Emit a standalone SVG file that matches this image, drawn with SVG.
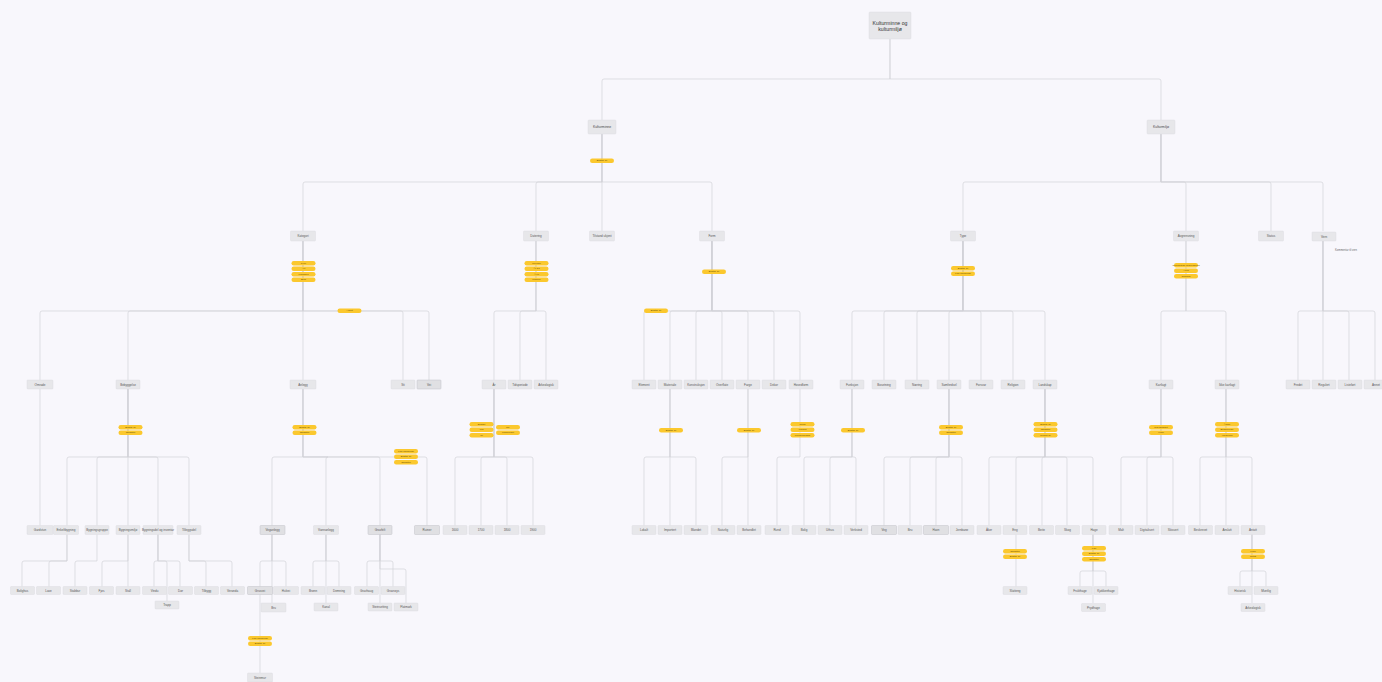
<svg xmlns="http://www.w3.org/2000/svg" width="1382" height="682" viewBox="0 0 1382 682">
<style>
.c path{fill:none;stroke:#d3d3d9;stroke-width:0.7}
.b rect{fill:#e7e7ea;stroke:#dadade;stroke-width:0.4}
.dk rect{fill:#e0e0e3;stroke:#c2c2c8;stroke-width:0.5}
.p rect{fill:#fbc82e}
text{font-family:"Liberation Sans",Arial,sans-serif;font-size:3px;fill:#555;text-anchor:middle;dominant-baseline:central}
.p text{font-size:2.5px;fill:#6a5000}
.r text{font-size:5.2px;fill:#333}
.l1 text{font-size:3.4px;fill:#444}
.cm{font-size:2.6px;fill:#666}
</style>
<rect width="1382" height="682" fill="#f8f7fc"/>
<g class="c" id="connectors">
<path d="M890 39V79H604Q602 79 602 81V120"/>
<path d="M890 39V79H1159Q1161 79 1161 81V120"/>
<path d="M602 134V182H305Q303 182 303 184V231"/>
<path d="M602 134V182H538Q536 182 536 184V231"/>
<path d="M602 134V231"/>
<path d="M602 134V182H710Q712 182 712 184V231"/>
<path d="M1161 134V182H965Q963 182 963 184V231"/>
<path d="M1161 134V182H1184Q1186 182 1186 184V231"/>
<path d="M1161 134V182H1269Q1271 182 1271 184V231"/>
<path d="M1161 134V182H1321Q1323 182 1323 184V231"/>
<path d="M303 241V311H42Q40 311 40 313V380"/>
<path d="M303 241V311H130Q128 311 128 313V380"/>
<path d="M303 241V380"/>
<path d="M303 241V311H401Q403 311 403 313V380"/>
<path d="M303 241V311H427Q429 311 429 313V380"/>
<path d="M536 241V311H496Q494 311 494 313V380"/>
<path d="M536 241V311H522Q520 311 520 313V380"/>
<path d="M536 241V311H544Q546 311 546 313V380"/>
<path d="M712 241V311H646Q644 311 644 313V380"/>
<path d="M712 241V311H672Q670 311 670 313V380"/>
<path d="M712 241V311H698Q696 311 696 313V380"/>
<path d="M712 241V311H720Q722 311 722 313V380"/>
<path d="M712 241V311H746Q748 311 748 313V380"/>
<path d="M712 241V311H772Q774 311 774 313V380"/>
<path d="M712 241V311H798Q800 311 800 313V380"/>
<path d="M963 241V311H854Q852 311 852 313V380"/>
<path d="M963 241V311H886Q884 311 884 313V380"/>
<path d="M963 241V311H919Q917 311 917 313V380"/>
<path d="M963 241V311H951Q949 311 949 313V380"/>
<path d="M963 241V311H979Q981 311 981 313V380"/>
<path d="M963 241V311H1011Q1013 311 1013 313V380"/>
<path d="M963 241V311H1043Q1045 311 1045 313V380"/>
<path d="M1186 241V311H1163Q1161 311 1161 313V380"/>
<path d="M1186 241V311H1224Q1226 311 1226 313V380"/>
<path d="M1323 241V311H1300Q1298 311 1298 313V380"/>
<path d="M1323 241V380"/>
<path d="M1323 241V311H1347Q1349 311 1349 313V380"/>
<path d="M1323 241V311H1373Q1375 311 1375 313V380"/>
<path d="M40 389V525.5"/>
<path d="M128 389V457H69Q67 457 67 459V525.5"/>
<path d="M128 389V457H99Q97 457 97 459V525.5"/>
<path d="M128 389V525.5"/>
<path d="M128 389V457H156Q158 457 158 459V525.5"/>
<path d="M128 389V457H187Q189 457 189 459V525.5"/>
<path d="M303 389V457H274Q272 457 272 459V525.5"/>
<path d="M303 389V457H328Q326 457 326 459V525.5"/>
<path d="M303 389V457H378Q380 457 380 459V525.5"/>
<path d="M303 389V457H425Q427 457 427 459V525.5"/>
<path d="M494 389V457H457Q455 457 455 459V525.5"/>
<path d="M494 389V457H483Q481 457 481 459V525.5"/>
<path d="M494 389V457H505Q507 457 507 459V525.5"/>
<path d="M494 389V457H531Q533 457 533 459V525.5"/>
<path d="M670 389V457H646Q644 457 644 459V525.5"/>
<path d="M670 389V525.5"/>
<path d="M670 389V457H694Q696 457 696 459V525.5"/>
<path d="M748 389V457H724Q722 457 722 459V525.5"/>
<path d="M748 389V525.5"/>
<path d="M800 389V457H779Q777 457 777 459V525.5"/>
<path d="M852 389V457H806Q804 457 804 459V525.5"/>
<path d="M852 389V457H832Q830 457 830 459V525.5"/>
<path d="M852 389V457H854Q856 457 856 459V525.5"/>
<path d="M949 389V457H886Q884 457 884 459V525.5"/>
<path d="M949 389V457H912Q910 457 910 459V525.5"/>
<path d="M949 389V457H938Q936 457 936 459V525.5"/>
<path d="M949 389V457H960Q962 457 962 459V525.5"/>
<path d="M1045 389V457H991Q989 457 989 459V525.5"/>
<path d="M1045 389V457H1018Q1016 457 1016 459V525.5"/>
<path d="M1045 389V457H1044Q1042 457 1042 459V525.5"/>
<path d="M1045 389V457H1065Q1067 457 1067 459V525.5"/>
<path d="M1045 389V457H1091Q1093 457 1093 459V525.5"/>
<path d="M1161 389V457H1123Q1121 457 1121 459V525.5"/>
<path d="M1161 389V457H1149Q1147 457 1147 459V525.5"/>
<path d="M1161 389V457H1171Q1173 457 1173 459V525.5"/>
<path d="M1226 389V457H1202Q1200 457 1200 459V525.5"/>
<path d="M1226 389V525.5"/>
<path d="M1226 389V457H1250Q1252 457 1252 459V525.5"/>
<path d="M67 534.5V561H24Q22 561 22 563V586.5"/>
<path d="M67 534.5V561H51Q49 561 49 563V586.5"/>
<path d="M97 534.5V561H77Q75 561 75 563V586.5"/>
<path d="M128 534.5V561H104Q102 561 102 563V586.5"/>
<path d="M128 534.5V586.5"/>
<path d="M158 534.5V561H156Q154 561 154 563V586.5"/>
<path d="M158 534.5V561H178Q180 561 180 563V586.5"/>
<path d="M158 534.5V561H165Q167 561 167 563V603"/>
<path d="M189 534.5V561H204Q206 561 206 563V586.5"/>
<path d="M189 534.5V561H230Q232 561 232 563V586.5"/>
<path d="M272 534.5V561H262Q260 561 260 563V586.5"/>
<path d="M272 534.5V561H284Q286 561 286 563V586.5"/>
<path d="M272 534.5V603"/>
<path d="M326 534.5V561H315Q313 561 313 563V586.5"/>
<path d="M326 534.5V561H337Q339 561 339 563V586.5"/>
<path d="M326 534.5V603"/>
<path d="M380 534.5V561H369Q367 561 367 563V586.5"/>
<path d="M380 534.5V561H391Q393 561 393 563V586.5"/>
<path d="M380 534.5V603"/>
<path d="M380 534.5V569H404Q406 569 406 571V603"/>
<path d="M1016 534.5V586.5"/>
<path d="M1093 534.5V571H1082Q1080 571 1080 573V586.5"/>
<path d="M1093 534.5V571H1104Q1106 571 1106 573V586.5"/>
<path d="M1093 534.5V603"/>
<path d="M1252 534.5V571H1242Q1240 571 1240 573V586.5"/>
<path d="M1252 534.5V571H1264Q1266 571 1266 573V586.5"/>
<path d="M1252 534.5V603"/>
<path d="M260 594.5V673"/>
</g>

<g id="root" class="b r" transform="translate(890,25.5)"><rect x="-21" y="-13.5" width="42" height="27" rx="1"/><text y="-3">Kulturminne og</text><text y="3.5">kulturmiljø</text></g>
<g id="kulturminne" class="b l1" transform="translate(602,127)"><rect x="-14" y="-7" width="28" height="14" rx="1"/><text>Kulturminne</text></g>
<g id="kulturmiljo" class="b l1" transform="translate(1161,127)"><rect x="-14" y="-7" width="28" height="14" rx="1"/><text>Kulturmiljø</text></g>

<g id="l2-kategori" class="b" transform="translate(303,236)"><rect x="-12.5" y="-5" width="25" height="10" rx="0.8"/><text>Kategori</text></g>
<g id="l2-datering" class="b" transform="translate(536,236)"><rect x="-12.5" y="-5" width="25" height="10" rx="0.8"/><text>Datering</text></g>
<g id="l2-tilstand" class="b" transform="translate(602,236)"><rect x="-12.5" y="-5" width="25" height="10" rx="0.8"/><text>Tilstand ukjent</text></g>
<g id="l2-form" class="b" transform="translate(712,236)"><rect x="-12.5" y="-5" width="25" height="10" rx="0.8"/><text>Form</text></g>
<g id="l2-type" class="b" transform="translate(963,236)"><rect x="-12.5" y="-5" width="25" height="10" rx="0.8"/><text>Type</text></g>
<g id="l2-avgrensning" class="b" transform="translate(1186,236)"><rect x="-12.5" y="-5" width="25" height="10" rx="0.8"/><text>Avgrensning</text></g>
<g id="l2-status" class="b" transform="translate(1271,236)"><rect x="-12.5" y="-5" width="25" height="10" rx="0.8"/><text>Status</text></g>
<g id="l2-vern" class="b" transform="translate(1324,236.5)"><rect x="-12" y="-4.5" width="24" height="9" rx="0.8"/><text>Vern</text></g>
<text id="vern-kommentar" class="cm" x="1346" y="250">Kommentar til vern</text>

<g id="l3-omrade" class="b" transform="translate(40,384.5)"><rect x="-13" y="-4.5" width="26" height="9" rx="0.8"/><text>Område</text></g>
<g id="l3-bebyggelse" class="b" transform="translate(128,384.5)"><rect x="-12" y="-4.5" width="24" height="9" rx="0.8"/><text>Bebyggelse</text></g>
<g id="l3-anlegg" class="b" transform="translate(303,384.5)"><rect x="-13" y="-4.5" width="26" height="9" rx="0.8"/><text>Anlegg</text></g>
<g id="l3-sti" class="b" transform="translate(403,384.5)"><rect x="-12" y="-4.5" width="24" height="9" rx="0.8"/><text>Sti</text></g>
<g id="l3-vei" class="b dk" transform="translate(429,384.5)"><rect x="-12" y="-4.5" width="24" height="9" rx="0.8"/><text>Vei</text></g>
<g id="l3-ar" class="b" transform="translate(494,384.5)"><rect x="-12" y="-4.5" width="24" height="9" rx="0.8"/><text>År</text></g>
<g id="l3-tidsperiode" class="b" transform="translate(520,384.5)"><rect x="-12" y="-4.5" width="24" height="9" rx="0.8"/><text>Tidsperiode</text></g>
<g id="l3-arkperiode" class="b" transform="translate(546,384.5)"><rect x="-12" y="-4.5" width="24" height="9" rx="0.8"/><text>Arkeologisk</text></g>
<g id="l3-element" class="b" transform="translate(644,384.5)"><rect x="-12" y="-4.5" width="24" height="9" rx="0.8"/><text>Element</text></g>
<g id="l3-materiale" class="b" transform="translate(670,384.5)"><rect x="-12" y="-4.5" width="24" height="9" rx="0.8"/><text>Materiale</text></g>
<g id="l3-konstruksjon" class="b" transform="translate(696,384.5)"><rect x="-12" y="-4.5" width="24" height="9" rx="0.8"/><text>Konstruksjon</text></g>
<g id="l3-overflate" class="b" transform="translate(722,384.5)"><rect x="-12" y="-4.5" width="24" height="9" rx="0.8"/><text>Overflate</text></g>
<g id="l3-farge" class="b" transform="translate(748,384.5)"><rect x="-12" y="-4.5" width="24" height="9" rx="0.8"/><text>Farge</text></g>
<g id="l3-dekor" class="b" transform="translate(774,384.5)"><rect x="-12" y="-4.5" width="24" height="9" rx="0.8"/><text>Dekor</text></g>
<g id="l3-hovedform" class="b" transform="translate(801,384.5)"><rect x="-12" y="-4.5" width="24" height="9" rx="0.8"/><text>Hovedform</text></g>
<g id="l3-funksjon" class="b" transform="translate(852,384.5)"><rect x="-12" y="-4.5" width="24" height="9" rx="0.8"/><text>Funksjon</text></g>
<g id="l3-bosetning" class="b" transform="translate(884,384.5)"><rect x="-12" y="-4.5" width="24" height="9" rx="0.8"/><text>Bosetning</text></g>
<g id="l3-naering" class="b" transform="translate(917,384.5)"><rect x="-12" y="-4.5" width="24" height="9" rx="0.8"/><text>Næring</text></g>
<g id="l3-samferdsel" class="b" transform="translate(949,384.5)"><rect x="-12" y="-4.5" width="24" height="9" rx="0.8"/><text>Samferdsel</text></g>
<g id="l3-forsvar" class="b" transform="translate(981,384.5)"><rect x="-12" y="-4.5" width="24" height="9" rx="0.8"/><text>Forsvar</text></g>
<g id="l3-religion" class="b" transform="translate(1013,384.5)"><rect x="-12" y="-4.5" width="24" height="9" rx="0.8"/><text>Religion</text></g>
<g id="l3-landskap" class="b" transform="translate(1045,384.5)"><rect x="-12" y="-4.5" width="24" height="9" rx="0.8"/><text>Landskap</text></g>
<g id="l3-kartlagt" class="b" transform="translate(1161,384.5)"><rect x="-12" y="-4.5" width="24" height="9" rx="0.8"/><text>Kartlagt</text></g>
<g id="l3-ikkekartlagt" class="b" transform="translate(1227,384.5)"><rect x="-12" y="-4.5" width="24" height="9" rx="0.8"/><text>Ikke kartlagt</text></g>
<g id="l3-fredet" class="b" transform="translate(1298,384.5)"><rect x="-12" y="-4.5" width="24" height="9" rx="0.8"/><text>Fredet</text></g>
<g id="l3-regulert" class="b" transform="translate(1324,384.5)"><rect x="-12" y="-4.5" width="24" height="9" rx="0.8"/><text>Regulert</text></g>
<g id="l3-listefort" class="b" transform="translate(1350,384.5)"><rect x="-12" y="-4.5" width="24" height="9" rx="0.8"/><text>Listeført</text></g>
<g id="l3-annet" class="b" transform="translate(1376,384.5)"><rect x="-12" y="-4.5" width="24" height="9" rx="0.8"/><text>Annet</text></g>

<g id="l4-gardstun" class="b" transform="translate(40,530)"><rect x="-13" y="-4.5" width="26" height="9" rx="0.8"/><text>Gårdstun</text></g>
<g id="l4-enkeltbygning" class="b" transform="translate(66,530)"><rect x="-12.5" y="-4.5" width="25" height="9" rx="0.8"/><text>Enkeltbygning</text></g>
<g id="l4-bygningsgruppe" class="b" transform="translate(97,530)"><rect x="-12" y="-4.5" width="24" height="9" rx="0.8"/><text>Bygningsgruppe</text></g>
<g id="l4-bygningsmiljo" class="b" transform="translate(128,530)"><rect x="-12" y="-4.5" width="24" height="9" rx="0.8"/><text>Bygningsmiljø</text></g>
<g id="l4-bygningsdel" class="b" transform="translate(158,530)"><rect x="-15" y="-4.5" width="30" height="9" rx="0.8"/><text>Bygningsdel og inventar</text></g>
<g id="l4-tilleggsdel" class="b" transform="translate(189,530)"><rect x="-12" y="-4.5" width="24" height="9" rx="0.8"/><text>Tilleggsdel</text></g>
<g id="l4-veganlegg" class="b dk" transform="translate(272.5,530)"><rect x="-12.5" y="-4.5" width="25" height="9" rx="0.8"/><text>Veganlegg</text></g>
<g id="l4-vannanlegg" class="b" transform="translate(326,530)"><rect x="-12.5" y="-4.5" width="25" height="9" rx="0.8"/><text>Vannanlegg</text></g>
<g id="l4-gravfelt" class="b dk" transform="translate(380,530)"><rect x="-12" y="-4.5" width="24" height="9" rx="0.8"/><text>Gravfelt</text></g>
<g id="l4-ruiner" class="b dk" transform="translate(427,530)"><rect x="-12.5" y="-4.5" width="25" height="9" rx="0.8"/><text>Ruiner</text></g>
<g id="l4-1600" class="b" transform="translate(455,530)"><rect x="-12" y="-4.5" width="24" height="9" rx="0.8"/><text>1600</text></g>
<g id="l4-1700" class="b" transform="translate(481,530)"><rect x="-12" y="-4.5" width="24" height="9" rx="0.8"/><text>1700</text></g>
<g id="l4-1800" class="b" transform="translate(507,530)"><rect x="-12" y="-4.5" width="24" height="9" rx="0.8"/><text>1800</text></g>
<g id="l4-1900" class="b" transform="translate(533,530)"><rect x="-12" y="-4.5" width="24" height="9" rx="0.8"/><text>1900</text></g>
<g id="l4-lokalt" class="b" transform="translate(644,530)"><rect x="-12" y="-4.5" width="24" height="9" rx="0.8"/><text>Lokalt</text></g>
<g id="l4-importert" class="b" transform="translate(670,530)"><rect x="-12" y="-4.5" width="24" height="9" rx="0.8"/><text>Importert</text></g>
<g id="l4-blandet" class="b" transform="translate(696,530)"><rect x="-12" y="-4.5" width="24" height="9" rx="0.8"/><text>Blandet</text></g>
<g id="l4-naturlig" class="b" transform="translate(723,530)"><rect x="-12" y="-4.5" width="24" height="9" rx="0.8"/><text>Naturlig</text></g>
<g id="l4-behandlet" class="b" transform="translate(749,530)"><rect x="-12" y="-4.5" width="24" height="9" rx="0.8"/><text>Behandlet</text></g>
<g id="l4-rund" class="b" transform="translate(777,530)"><rect x="-12" y="-4.5" width="24" height="9" rx="0.8"/><text>Rund</text></g>
<g id="l4-bolig" class="b" transform="translate(804,530)"><rect x="-12" y="-4.5" width="24" height="9" rx="0.8"/><text>Bolig</text></g>
<g id="l4-uthus" class="b" transform="translate(830,530)"><rect x="-12" y="-4.5" width="24" height="9" rx="0.8"/><text>Uthus</text></g>
<g id="l4-verksted" class="b" transform="translate(856,530)"><rect x="-12" y="-4.5" width="24" height="9" rx="0.8"/><text>Verksted</text></g>
<g id="l4-veg" class="b dk" transform="translate(884,530)"><rect x="-12.5" y="-4.5" width="25" height="9" rx="0.8"/><text>Veg</text></g>
<g id="l4-bru" class="b" transform="translate(910,530)"><rect x="-12" y="-4.5" width="24" height="9" rx="0.8"/><text>Bru</text></g>
<g id="l4-havn" class="b dk" transform="translate(936,530)"><rect x="-12.5" y="-4.5" width="25" height="9" rx="0.8"/><text>Havn</text></g>
<g id="l4-jernbane" class="b" transform="translate(962,530)"><rect x="-12" y="-4.5" width="24" height="9" rx="0.8"/><text>Jernbane</text></g>
<g id="l4-aker" class="b" transform="translate(989,530)"><rect x="-12" y="-4.5" width="24" height="9" rx="0.8"/><text>Åker</text></g>
<g id="l4-eng" class="b" transform="translate(1015,530)"><rect x="-12" y="-4.5" width="24" height="9" rx="0.8"/><text>Eng</text></g>
<g id="l4-beite" class="b" transform="translate(1041.5,530)"><rect x="-12" y="-4.5" width="24" height="9" rx="0.8"/><text>Beite</text></g>
<g id="l4-skog" class="b" transform="translate(1067.5,530)"><rect x="-12" y="-4.5" width="24" height="9" rx="0.8"/><text>Skog</text></g>
<g id="l4-hage" class="b" transform="translate(1094,530)"><rect x="-12" y="-4.5" width="24" height="9" rx="0.8"/><text>Hage</text></g>
<g id="l4-malt" class="b" transform="translate(1121,530)"><rect x="-12" y="-4.5" width="24" height="9" rx="0.8"/><text>Målt</text></g>
<g id="l4-digitalisert" class="b" transform="translate(1147,530)"><rect x="-12" y="-4.5" width="24" height="9" rx="0.8"/><text>Digitalisert</text></g>
<g id="l4-skissert" class="b" transform="translate(1173,530)"><rect x="-12" y="-4.5" width="24" height="9" rx="0.8"/><text>Skissert</text></g>
<g id="l4-beskrevet" class="b" transform="translate(1200.5,530)"><rect x="-12" y="-4.5" width="24" height="9" rx="0.8"/><text>Beskrevet</text></g>
<g id="l4-anslatt" class="b" transform="translate(1227,530)"><rect x="-12" y="-4.5" width="24" height="9" rx="0.8"/><text>Anslått</text></g>
<g id="l4-antatt" class="b" transform="translate(1253,530)"><rect x="-12" y="-4.5" width="24" height="9" rx="0.8"/><text>Antatt</text></g>

<g id="l5-bolighus" class="b" transform="translate(22.5,590.5)"><rect x="-12" y="-4" width="24" height="8" rx="0.8"/><text>Bolighus</text></g>
<g id="l5-lave" class="b" transform="translate(48.5,590.5)"><rect x="-12" y="-4" width="24" height="8" rx="0.8"/><text>Låve</text></g>
<g id="l5-stabbur" class="b" transform="translate(75,590.5)"><rect x="-12" y="-4" width="24" height="8" rx="0.8"/><text>Stabbur</text></g>
<g id="l5-fjos" class="b" transform="translate(101.5,590.5)"><rect x="-12" y="-4" width="24" height="8" rx="0.8"/><text>Fjøs</text></g>
<g id="l5-stall" class="b" transform="translate(128,590.5)"><rect x="-12" y="-4" width="24" height="8" rx="0.8"/><text>Stall</text></g>
<g id="l5-vindu" class="b" transform="translate(154.5,590.5)"><rect x="-12" y="-4" width="24" height="8" rx="0.8"/><text>Vindu</text></g>
<g id="l5-dor" class="b" transform="translate(180.5,590.5)"><rect x="-12" y="-4" width="24" height="8" rx="0.8"/><text>Dør</text></g>
<g id="l5-trapp" class="b" transform="translate(167,605)"><rect x="-12" y="-4" width="24" height="8" rx="0.8"/><text>Trapp</text></g>
<g id="l5-tilbygg" class="b" transform="translate(206.5,590.5)"><rect x="-12" y="-4" width="24" height="8" rx="0.8"/><text>Tilbygg</text></g>
<g id="l5-veranda" class="b" transform="translate(232.5,590.5)"><rect x="-12" y="-4" width="24" height="8" rx="0.8"/><text>Veranda</text></g>
<g id="l5-grusvei" class="b dk" transform="translate(260,590.5)"><rect x="-12.5" y="-4" width="25" height="8" rx="0.8"/><text>Grusvei</text></g>
<g id="l5-hulvei" class="b" transform="translate(286,590.5)"><rect x="-12.5" y="-4" width="25" height="8" rx="0.8"/><text>Hulvei</text></g>
<g id="l5-bru" class="b" transform="translate(273.5,607.5)"><rect x="-12.5" y="-4.5" width="25" height="9" rx="0.8"/><text>Bru</text></g>
<g id="l5-bronn" class="b" transform="translate(313,590.5)"><rect x="-12" y="-4" width="24" height="8" rx="0.8"/><text>Brønn</text></g>
<g id="l5-demning" class="b" transform="translate(339,590.5)"><rect x="-12" y="-4" width="24" height="8" rx="0.8"/><text>Demning</text></g>
<g id="l5-kanal" class="b" transform="translate(326,607)"><rect x="-12" y="-4" width="24" height="8" rx="0.8"/><text>Kanal</text></g>
<g id="l5-gravhaug" class="b" transform="translate(366.5,590.5)"><rect x="-12" y="-4" width="24" height="8" rx="0.8"/><text>Gravhaug</text></g>
<g id="l5-gravroys" class="b" transform="translate(393,590.5)"><rect x="-12" y="-4" width="24" height="8" rx="0.8"/><text>Gravrøys</text></g>
<g id="l5-steinsetting" class="b" transform="translate(380,607)"><rect x="-12" y="-4" width="24" height="8" rx="0.8"/><text>Steinsetting</text></g>
<g id="l5-flatmark" class="b" transform="translate(406,607)"><rect x="-12" y="-4" width="24" height="8" rx="0.8"/><text>Flatmark</text></g>
<g id="l5-slatteng" class="b" transform="translate(1015,590.5)"><rect x="-12" y="-4" width="24" height="8" rx="0.8"/><text>Slåtteng</text></g>
<g id="l5-frukthage" class="b" transform="translate(1080,590.5)"><rect x="-12" y="-4" width="24" height="8" rx="0.8"/><text>Frukthage</text></g>
<g id="l5-kjokkenhage" class="b" transform="translate(1106,590.5)"><rect x="-12" y="-4" width="24" height="8" rx="0.8"/><text>Kjøkkenhage</text></g>
<g id="l5-prydhage" class="b" transform="translate(1093.5,607.5)"><rect x="-12" y="-4" width="24" height="8" rx="0.8"/><text>Prydhage</text></g>
<g id="l5-historisk" class="b" transform="translate(1240,590.5)"><rect x="-12" y="-4" width="24" height="8" rx="0.8"/><text>Historisk</text></g>
<g id="l5-muntlig" class="b" transform="translate(1266,590.5)"><rect x="-12" y="-4" width="24" height="8" rx="0.8"/><text>Muntlig</text></g>
<g id="l5-arkeologisk" class="b" transform="translate(1253,607.5)"><rect x="-12" y="-4" width="24" height="8" rx="0.8"/><text>Arkeologisk</text></g>
<g id="l6-steinmur" class="b" transform="translate(260,677.5)"><rect x="-12.5" y="-4.5" width="25" height="9" rx="0.8"/><text>Steinmur</text></g>

<g id="lbl-kulturminne" class="p" transform="translate(602,160.7)"><rect x="-12" y="-2.2" width="24" height="4.4" rx="2.2"/><text>Består av</text></g>
<g id="lbl-kategori" class="p">
<g transform="translate(303.5,263.2)"><rect x="-12" y="-2.2" width="24" height="4.4" rx="2.2"/><text>Type</text></g>
<g transform="translate(303.5,268.7)"><rect x="-12" y="-2.2" width="24" height="4.4" rx="2.2"/><text>Art</text></g>
<g transform="translate(303.5,274.2)"><rect x="-12" y="-2.2" width="24" height="4.4" rx="2.2"/><text>Funksjon</text></g>
<g transform="translate(303.5,279.7)"><rect x="-12" y="-2.2" width="24" height="4.4" rx="2.2"/><text>Bruk</text></g>
</g>
<g id="lbl-datering" class="p">
<g transform="translate(536.5,263.2)"><rect x="-12" y="-2.2" width="24" height="4.4" rx="2.2"/><text>Periode</text></g>
<g transform="translate(536.5,268.7)"><rect x="-12" y="-2.2" width="24" height="4.4" rx="2.2"/><text>År fra</text></g>
<g transform="translate(536.5,274.2)"><rect x="-12" y="-2.2" width="24" height="4.4" rx="2.2"/><text>År til</text></g>
<g transform="translate(536.5,279.7)"><rect x="-12" y="-2.2" width="24" height="4.4" rx="2.2"/><text>Usikker</text></g>
</g>
<g id="lbl-form" class="p" transform="translate(714,271.7)"><rect x="-12" y="-2.2" width="24" height="4.4" rx="2.2"/><text>Består av</text></g>
<g id="lbl-type" class="p">
<g transform="translate(963,268.2)"><rect x="-12" y="-2.2" width="24" height="4.4" rx="2.2"/><text>Består av</text></g>
<g transform="translate(963,273.7)"><rect x="-12" y="-2.2" width="24" height="4.4" rx="2.2"/><text>Kan inneholde</text></g>
</g>
<g id="lbl-avgrensning" class="p">
<g transform="translate(1186,265.2)"><rect x="-12" y="-2.2" width="24" height="4.4" rx="2.2"/><text>Geometrisk avgrensning</text></g>
<g transform="translate(1186,270.7)"><rect x="-12" y="-2.2" width="24" height="4.4" rx="2.2"/><text>Areal</text></g>
<g transform="translate(1186,276.2)"><rect x="-12" y="-2.2" width="24" height="4.4" rx="2.2"/><text>Omfang</text></g>
</g>
<g id="lbl-annet" class="p" transform="translate(349.5,310.7)"><rect x="-12" y="-2.2" width="24" height="4.4" rx="2.2"/><text>Annet</text></g>
<g id="lbl-form2" class="p" transform="translate(656,310.7)"><rect x="-12" y="-2.2" width="24" height="4.4" rx="2.2"/><text>Består av</text></g>
<g id="lbl-bebyggelse" class="p">
<g transform="translate(130.5,427.2)"><rect x="-12" y="-2.2" width="24" height="4.4" rx="2.2"/><text>Består av</text></g>
<g transform="translate(130.5,432.7)"><rect x="-12" y="-2.2" width="24" height="4.4" rx="2.2"/><text>Omfatter</text></g>
</g>
<g id="lbl-anlegg" class="p">
<g transform="translate(304.5,427.2)"><rect x="-12" y="-2.2" width="24" height="4.4" rx="2.2"/><text>Består av</text></g>
<g transform="translate(304.5,432.7)"><rect x="-12" y="-2.2" width="24" height="4.4" rx="2.2"/><text>Omfatter</text></g>
</g>
<g id="lbl-anlegg2" class="p">
<g transform="translate(406,451.2)"><rect x="-12" y="-2.2" width="24" height="4.4" rx="2.2"/><text>Kan inneholde</text></g>
<g transform="translate(406,456.7)"><rect x="-12" y="-2.2" width="24" height="4.4" rx="2.2"/><text>Består av</text></g>
<g transform="translate(406,462.2)"><rect x="-12" y="-2.2" width="24" height="4.4" rx="2.2"/><text>Omfatter</text></g>
</g>
<g id="lbl-ar" class="p">
<g transform="translate(481.5,424.2)"><rect x="-12" y="-2.2" width="24" height="4.4" rx="2.2"/><text>Eksakt</text></g>
<g transform="translate(481.5,429.7)"><rect x="-12" y="-2.2" width="24" height="4.4" rx="2.2"/><text>Fra</text></g>
<g transform="translate(481.5,435.2)"><rect x="-12" y="-2.2" width="24" height="4.4" rx="2.2"/><text>Til</text></g>
<g transform="translate(508,427.2)"><rect x="-12" y="-2.2" width="24" height="4.4" rx="2.2"/><text>Ca.</text></g>
<g transform="translate(508,432.7)"><rect x="-12" y="-2.2" width="24" height="4.4" rx="2.2"/><text>Usikkerhet</text></g>
</g>
<g id="lbl-materiale" class="p" transform="translate(671,430.2)"><rect x="-12" y="-2.2" width="24" height="4.4" rx="2.2"/><text>Består av</text></g>
<g id="lbl-farge" class="p" transform="translate(749,430.2)"><rect x="-12" y="-2.2" width="24" height="4.4" rx="2.2"/><text>Består av</text></g>
<g id="lbl-hovedform" class="p">
<g transform="translate(802.5,424.2)"><rect x="-12" y="-2.2" width="24" height="4.4" rx="2.2"/><text>Rund</text></g>
<g transform="translate(802.5,429.7)"><rect x="-12" y="-2.2" width="24" height="4.4" rx="2.2"/><text>Firkant</text></g>
<g transform="translate(802.5,435.2)"><rect x="-12" y="-2.2" width="24" height="4.4" rx="2.2"/><text>Uregelmessig</text></g>
</g>
<g id="lbl-funksjon" class="p" transform="translate(853,430.2)"><rect x="-12" y="-2.2" width="24" height="4.4" rx="2.2"/><text>Består av</text></g>
<g id="lbl-samferdsel" class="p">
<g transform="translate(951,427.2)"><rect x="-12" y="-2.2" width="24" height="4.4" rx="2.2"/><text>Består av</text></g>
<g transform="translate(951,432.7)"><rect x="-12" y="-2.2" width="24" height="4.4" rx="2.2"/><text>Omfatter</text></g>
</g>
<g id="lbl-landskap" class="p">
<g transform="translate(1045.5,424.2)"><rect x="-12" y="-2.2" width="24" height="4.4" rx="2.2"/><text>Består av</text></g>
<g transform="translate(1045.5,429.7)"><rect x="-12" y="-2.2" width="24" height="4.4" rx="2.2"/><text>Omfatter</text></g>
<g transform="translate(1045.5,435.2)"><rect x="-12" y="-2.2" width="24" height="4.4" rx="2.2"/><text>Preget av</text></g>
</g>
<g id="lbl-kartlagt" class="p">
<g transform="translate(1161,427.2)"><rect x="-12" y="-2.2" width="24" height="4.4" rx="2.2"/><text>Nøyaktighet</text></g>
<g transform="translate(1161,432.7)"><rect x="-12" y="-2.2" width="24" height="4.4" rx="2.2"/><text>Kilde</text></g>
</g>
<g id="lbl-ikkekartlagt" class="p">
<g transform="translate(1227,424.2)"><rect x="-12" y="-2.2" width="24" height="4.4" rx="2.2"/><text>Årsak</text></g>
<g transform="translate(1227,429.7)"><rect x="-12" y="-2.2" width="24" height="4.4" rx="2.2"/><text>Beskrivelse</text></g>
<g transform="translate(1227,435.2)"><rect x="-12" y="-2.2" width="24" height="4.4" rx="2.2"/><text>Vurdering</text></g>
</g>
<g id="lbl-grusvei" class="p">
<g transform="translate(260,638.2)"><rect x="-12" y="-2.2" width="24" height="4.4" rx="2.2"/><text>Kan inneholde</text></g>
<g transform="translate(260,643.7)"><rect x="-12" y="-2.2" width="24" height="4.4" rx="2.2"/><text>Består av</text></g>
</g>
<g id="lbl-eng" class="p">
<g transform="translate(1015,551.2)"><rect x="-12" y="-2.2" width="24" height="4.4" rx="2.2"/><text>Omfatter</text></g>
<g transform="translate(1015,556.7)"><rect x="-12" y="-2.2" width="24" height="4.4" rx="2.2"/><text>Består av</text></g>
</g>
<g id="lbl-hage" class="p">
<g transform="translate(1094,548.2)"><rect x="-12" y="-2.2" width="24" height="4.4" rx="2.2"/><text>Kan</text></g>
<g transform="translate(1094,553.7)"><rect x="-12" y="-2.2" width="24" height="4.4" rx="2.2"/><text>Består av</text></g>
<g transform="translate(1094,559.2)"><rect x="-12" y="-2.2" width="24" height="4.4" rx="2.2"/><text>Omfatter</text></g>
</g>
<g id="lbl-antatt" class="p">
<g transform="translate(1253,551.2)"><rect x="-12" y="-2.2" width="24" height="4.4" rx="2.2"/><text>Kilde</text></g>
<g transform="translate(1253,556.7)"><rect x="-12" y="-2.2" width="24" height="4.4" rx="2.2"/><text>Notat</text></g>
</g>
</svg>
